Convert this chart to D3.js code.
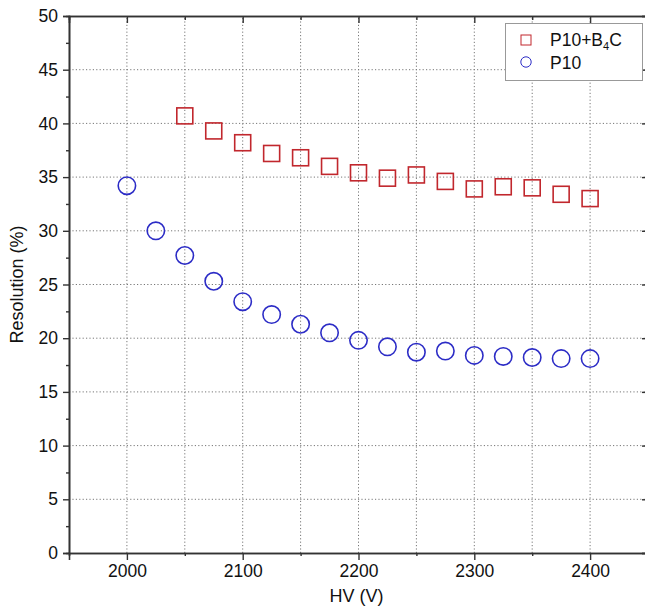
<!DOCTYPE html>
<html>
<head>
<meta charset="utf-8">
<script src="https://cdn.jsdelivr.net/npm/d3@7"></script>
<style>
  body { margin: 0; background: #fff; }
  text { font-family: "Liberation Sans", Arial, sans-serif; fill: #111; }
</style>
</head>
<body>
<div id="chart"></div>
<script>
// values
const HV_B4C = [2050, 2075, 2100, 2125, 2150, 2175, 2200, 2225, 2250, 2275, 2300, 2325, 2350, 2375, 2400];
const RES_B4C = [40.7, 39.3, 38.2, 37.2, 36.8, 36.0, 35.4, 34.9, 35.2, 34.6, 33.9, 34.1, 34.0, 33.4, 33.0];
const HV_P10 = [2000, 2025, 2050, 2075, 2100, 2125, 2150, 2175, 2200, 2225, 2250, 2275, 2300, 2325, 2350, 2375, 2400];
const RES_P10 = [34.2, 30.0, 27.7, 25.3, 23.4, 22.2, 21.3, 20.5, 19.8, 19.2, 18.7, 18.8, 18.4, 18.3, 18.2, 18.1, 18.1];
const X_TICKS = [2000, 2100, 2200, 2300, 2400];
const Y_TICKS = [0, 5, 10, 15, 20, 25, 30, 35, 40, 45, 50];

const RED = "#c1272d";
const BLUE = "#2c2cc6";

const WIDTH = 645, HEIGHT = 611;
const margin = {top: 16, left: 69, right: -3, bottom: 58};

const svg = d3.select('#chart').append('svg')
  .attr('width', WIDTH)
  .attr('height', HEIGHT);

const x = d3.scaleLinear().domain([1950, 2450]).range([margin.left, WIDTH - margin.right]);
const y = d3.scaleLinear().domain([0, 50]).range([HEIGHT - margin.bottom, margin.top]);

const x0 = x.range()[0], x1 = x.range()[1];
const y0 = y.range()[0], y1 = y.range()[1];

// grid
const grid = svg.append('g').attr('stroke', '#777').attr('stroke-width', 1).attr('stroke-dasharray', '1.2,2.2');
grid.selectAll('.vg').data(d3.range(2000, 2401, 50)).enter().append('line')
  .attr('x1', d => x(d)).attr('x2', d => x(d)).attr('y1', y0).attr('y2', y1);
grid.selectAll('.hg').data(Y_TICKS.slice(1, -1)).enter().append('line')
  .attr('y1', d => y(d)).attr('y2', d => y(d)).attr('x1', x0).attr('x2', x1);

// axes
const minorX = d3.range(2050, 2451, 100);
const minorY = d3.range(2.5, 50, 5);

svg.append('g').attr('transform', `translate(0,${y0})`)
  .call(d3.axisBottom(x).tickValues(X_TICKS).tickFormat(d3.format('d')).tickSize(7).tickPadding(5))
  .call(g => g.selectAll('text').attr('font-size', 17.5));
svg.append('g').attr('transform', `translate(0,${y0})`)
  .call(d3.axisBottom(x).tickValues(minorX).tickFormat('').tickSize(3));

svg.append('g').attr('transform', `translate(${x0},0)`)
  .call(d3.axisLeft(y).tickValues(Y_TICKS).tickSize(6).tickPadding(5))
  .call(g => g.selectAll('text').attr('font-size', 17.5));
svg.append('g').attr('transform', `translate(${x0},0)`)
  .call(d3.axisLeft(y).tickValues(minorY).tickFormat('').tickSize(3));

// top and right (inward ticks)
svg.append('g').attr('transform', `translate(0,${y1})`)
  .call(d3.axisTop(x).tickValues(X_TICKS).tickFormat('').tickSize(-7));
svg.append('g').attr('transform', `translate(0,${y1})`)
  .call(d3.axisTop(x).tickValues(minorX).tickFormat('').tickSize(-4));
svg.append('g').attr('transform', `translate(${x1},0)`)
  .call(d3.axisRight(y).tickValues(Y_TICKS).tickFormat('').tickSize(-6));
svg.append('g').attr('transform', `translate(${x1},0)`)
  .call(d3.axisRight(y).tickValues(minorY).tickFormat('').tickSize(-3));

svg.selectAll('.domain').attr('stroke', '#333').attr('stroke-width', 1.6);
svg.selectAll('.tick line').attr('stroke', '#333').attr('stroke-width', 1.4);

// axis titles
svg.append('text').attr('x', (x0 + x1) / 2 - 2).attr('y', 602)
  .attr('text-anchor', 'middle').attr('font-size', 18).text('HV (V)');
svg.append('text').attr('transform', `translate(23,${(y0 + y1) / 2}) rotate(-90)`)
  .attr('text-anchor', 'middle').attr('font-size', 18).text('Resolution (%)');

// markers
const SQ = 16;
svg.append('g').selectAll('rect').data(HV_B4C).enter().append('rect')
  .attr('x', d => x(d) - SQ / 2)
  .attr('y', (d, i) => y(RES_B4C[i]) - SQ / 2)
  .attr('width', SQ).attr('height', SQ)
  .attr('fill', 'none').attr('stroke', RED).attr('stroke-width', 1.6);

svg.append('g').selectAll('circle').data(HV_P10).enter().append('circle')
  .attr('cx', d => x(d))
  .attr('cy', (d, i) => y(RES_P10[i]))
  .attr('r', 8.7)
  .attr('fill', 'none').attr('stroke', BLUE).attr('stroke-width', 1.6);

// legend
const lg = svg.append('g');
lg.append('rect').attr('x', 505.5).attr('y', 23.5).attr('width', 137).attr('height', 57)
  .attr('fill', '#fff').attr('stroke', '#999').attr('stroke-width', 1);
lg.append('rect').attr('x', 521).attr('y', 35).attr('width', 10).attr('height', 10)
  .attr('fill', 'none').attr('stroke', RED).attr('stroke-width', 1);
lg.append('circle').attr('cx', 526).attr('cy', 62).attr('r', 5.2)
  .attr('fill', 'none').attr('stroke', BLUE).attr('stroke-width', 1);
const t1 = lg.append('text').attr('x', 550).attr('y', 46).attr('font-size', 17.5);
t1.append('tspan').text('P10+B');
t1.append('tspan').attr('font-size', 11).attr('dy', 4).text('4');
t1.append('tspan').attr('dy', -4).text('C');
lg.append('text').attr('x', 550).attr('y', 69).attr('font-size', 17.5).text('P10');
</script>
</body>
</html>
